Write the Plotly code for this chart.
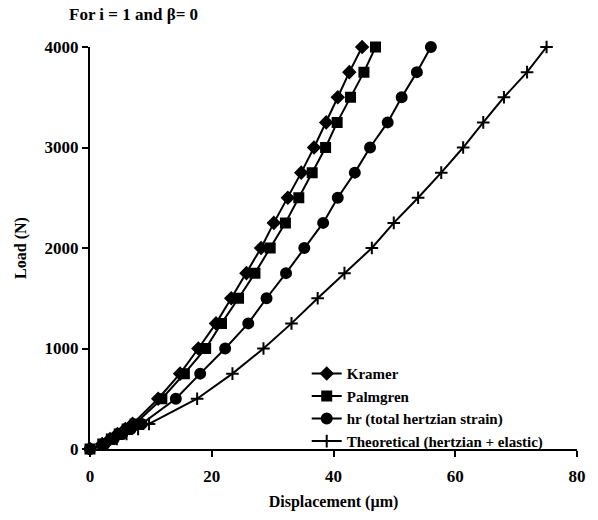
import plotly.graph_objects as go

loads = [0, 50, 100, 150, 200, 250, 500, 750, 1000, 1250, 1500, 1750, 2000,
         2250, 2500, 2750, 3000, 3250, 3500, 3750, 4000]

kramer = [0, 2.0, 3.3, 4.5, 5.8, 7.0, 11.2, 14.8, 17.8, 20.7, 23.2, 25.7, 28.1,
          30.2, 32.5, 34.7, 36.8, 38.8, 40.7, 42.6, 44.7]
palmgren = [0, 2.1, 3.5, 4.8, 6.1, 7.4, 11.8, 15.5, 19.0, 21.6, 24.4, 27.1, 29.6,
            32.1, 34.3, 36.5, 38.7, 40.6, 42.8, 45.0, 46.9]
hr = [0, 2.4, 3.9, 5.3, 6.7, 8.5, 14.1, 18.1, 22.2, 26.0, 29.0, 32.2, 35.2,
      38.3, 40.7, 43.5, 46.0, 48.9, 51.2, 53.7, 56.0]
theoretical = [0, 2.6, 4.4, 6.0, 7.9, 9.7, 17.6, 23.4, 28.5, 33.1, 37.4, 41.8, 46.3,
               49.9, 53.9, 57.7, 61.3, 64.6, 68.0, 71.8, 75.0]

names = ["Kramer", "Palmgren", "hr (total hertzian strain)", "Theoretical (hertzian + elastic)"]
series = [kramer, palmgren, hr, theoretical]
symbols = ["diamond", "square", "circle", "cross-thin"]
sizes = [9, 9, 10, 9]

FONT = "Liberation Serif"

fig = go.Figure()
for name, xs, sym, sz in zip(names, series, symbols, sizes):
    fig.add_trace(go.Scatter(
        x=xs, y=loads, name=name, mode="lines+markers",
        line=dict(color="black", width=2),
        marker=dict(symbol=sym, size=sz, color="black",
                    line=dict(color="black", width=2)),
        cliponaxis=False,
    ))

fig.update_layout(
    width=598, height=520,
    margin=dict(l=90, r=16, t=47, b=68),
    paper_bgcolor="white", plot_bgcolor="white",
    font=dict(family=FONT, size=16, color="black", weight="bold"),
    showlegend=True,
    legend=dict(x=0.445, y=0.228, xanchor="left", yanchor="top",
                bgcolor="rgba(0,0,0,0)", font=dict(family=FONT, size=15, weight="bold"),
                tracegroupgap=0, itemwidth=30),
    annotations=[dict(text="For i = 1 and β= 0", xref="paper", yref="paper",
                      x=-0.048, y=1.08, xanchor="left", yanchor="middle",
                      showarrow=False, font=dict(family=FONT, size=17, weight="bold"))],
)
fig.update_xaxes(
    range=[0, 80], tickvals=[0, 20, 40, 60, 80],
    showline=True, linecolor="black", linewidth=2,
    ticks="outside", ticklen=6, tickwidth=2, tickcolor="black",
    showgrid=False, zeroline=False, ticklabelstandoff=5,
    title=dict(text="Displacement (µm)", font=dict(family=FONT, size=16, weight="bold"), standoff=10),
    tickfont=dict(family=FONT, size=17, weight="bold"),
)
fig.update_yaxes(
    range=[0, 4000], tickvals=[0, 1000, 2000, 3000, 4000],
    showline=True, linecolor="black", linewidth=2,
    ticks="outside", ticklen=6, tickwidth=2, tickcolor="black",
    showgrid=False, zeroline=False,
    title=dict(text="Load (N)", font=dict(family=FONT, size=16, weight="bold"), standoff=14),
    tickfont=dict(family=FONT, size=17, weight="bold"),
)

fig.write_html("out.html")
